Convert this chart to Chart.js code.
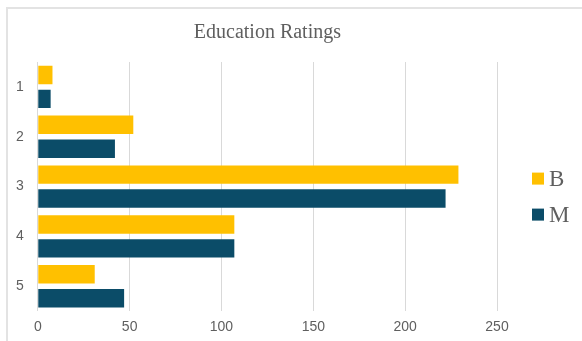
<!DOCTYPE html>
<html>
<head>
<meta charset="utf-8">
<script src="https://cdn.jsdelivr.net/npm/chart.js@4.4.1/dist/chart.umd.min.js"></script>
<style>
  html, body { margin: 0; padding: 0; background: #fff; }
  #wrap { position: relative; width: 582px; height: 341px; overflow: hidden; }
  #frame { position: absolute; left: 6px; top: 7px; width: 600px; height: 360px;
           border: 2px solid #e3e3e3; box-sizing: border-box; }
  #c { position: absolute; left: 0; top: 0; }
</style>
</head>
<body>
<div id="wrap">
  <div id="frame"></div>
  <canvas id="c" width="582" height="341"></canvas>
</div>
<script>
// Rating categories and counts per group
const categories = ['1', '2', '3', '4', '5'];
const seriesB = [8, 52, 229, 107, 31];
const seriesM = [7, 42, 222, 107, 47];
const seriesNames = ['B', 'M'];
const xTicks = [0, 50, 100, 150, 200, 250];

const COLOR_B = '#FFC000';
const COLOR_M = '#0B4C68';
const TEXT = '#5f5f5f';
const GRID = '#d9d9d9';

// Legend drawn to the right of the plot, stacked vertically
const sideLegend = {
  id: 'sideLegend',
  afterDraw(chart) {
    const ctx = chart.ctx;
    const area = chart.chartArea;
    const sets = chart.data.datasets;
    const mid = (area.top + area.bottom) / 2 + 10;
    const gap = 36;
    const x0 = area.right + 35;
    ctx.save();
    ctx.font = '23px "Liberation Serif", "DejaVu Serif", serif';
    ctx.textBaseline = 'middle';
    ctx.textAlign = 'left';
    sets.forEach((ds, i) => {
      const y = mid + (i - (sets.length - 1) / 2) * gap;
      ctx.fillStyle = ds.backgroundColor;
      ctx.fillRect(x0, y - 6, 12, 12);
      ctx.fillStyle = TEXT;
      ctx.fillText(ds.label, x0 + 17, y + 1);
    });
    ctx.restore();
  }
};

new Chart(document.getElementById('c'), {
  type: 'bar',
  data: {
    labels: categories,
    datasets: [
      { label: seriesNames[0], data: seriesB, backgroundColor: COLOR_B },
      { label: seriesNames[1], data: seriesM, backgroundColor: COLOR_M }
    ]
  },
  options: {
    indexAxis: 'y',
    responsive: false,
    animation: false,
    devicePixelRatio: 1,
    categoryPercentage: 0.96,
    barPercentage: 0.77,
    layout: { padding: { left: 2, right: 85, top: 0, bottom: -3 } },
    plugins: {
      legend: { display: false },
      tooltip: { enabled: false },
      title: {
        display: true,
        text: 'Education Ratings',
        fullSize: false,
        color: TEXT,
        font: { family: '"Liberation Serif", "DejaVu Serif", serif', size: 20, weight: 'normal' },
        padding: { top: 21, bottom: 17 }
      }
    },
    scales: {
      x: {
        min: 0,
        max: 250,
        afterBuildTicks(scale) { scale.ticks = xTicks.map(v => ({ value: v })); },
        grid: { color: GRID, lineWidth: 1, drawTicks: false },
        border: { display: false },
        ticks: {
          color: TEXT,
          padding: 8,
          font: { family: '"Liberation Sans", sans-serif', size: 14 }
        }
      },
      y: {
        grid: { display: false, drawTicks: false },
        border: { display: false },
        ticks: {
          color: TEXT,
          padding: 14,
          font: { family: '"Liberation Sans", sans-serif', size: 14 }
        }
      }
    }
  },
  plugins: [sideLegend]
});
</script>
</body>
</html>
